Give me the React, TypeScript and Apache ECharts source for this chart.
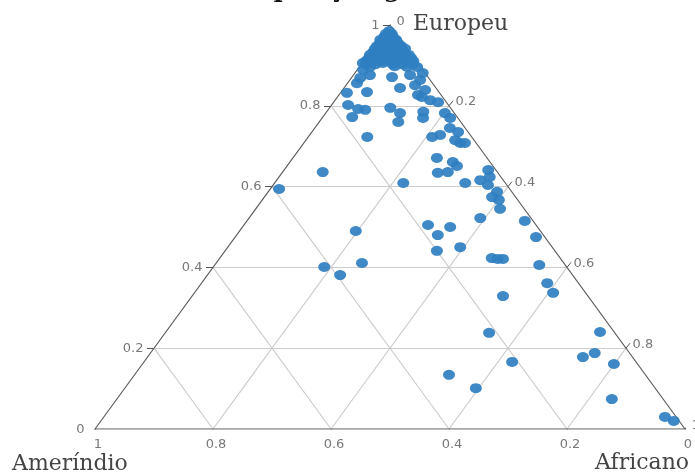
import React, { useEffect, useRef } from "react";
import * as echarts from "echarts";

const titleText = "Composição genética";
const nameTop = "Europeu";
const nameLeft = "Ameríndio";
const nameRight = "Africano";

const ticks = [0, 0.2, 0.4, 0.6, 0.8, 1];
const tickLabels = ["0", "0.2", "0.4", "0.6", "0.8", "1"];
const gridValues = [0.2, 0.4, 0.6, 0.8];

const europeu = [
  0.985, 0.97, 0.97, 0.955, 0.955, 0.955, 0.941, 0.941, 0.941, 0.941, 0.941,
  0.926, 0.926, 0.926, 0.926, 0.926, 0.926, 0.911, 0.911, 0.911, 0.911, 0.911,
  0.911, 0.911, 0.896, 0.896, 0.896, 0.881, 0.906, 0.898, 0.906,
  0.978, 0.978, 0.963, 0.963, 0.963, 0.948, 0.948, 0.948, 0.948, 0.933, 0.933,
  0.933, 0.933, 0.933, 0.918, 0.918, 0.918, 0.918, 0.918, 0.918, 0.903, 0.903,
  0.903, 0.903, 0.903,
  0.889, 0.876, 0.869, 0.856, 0.832, 0.834, 0.871, 0.844, 0.876, 0.851, 0.864,
  0.839, 0.827, 0.814, 0.809, 0.822, 0.802, 0.792, 0.79, 0.772, 0.795, 0.782,
  0.76, 0.785, 0.77, 0.782, 0.77, 0.745, 0.735, 0.715, 0.708, 0.708, 0.723,
  0.728, 0.723, 0.671, 0.661, 0.651, 0.634, 0.636, 0.609, 0.609, 0.616, 0.641,
  0.624, 0.604, 0.587, 0.574, 0.567, 0.545, 0.522, 0.515, 0.475, 0.505, 0.5,
  0.48, 0.441, 0.45, 0.423, 0.421, 0.421, 0.406, 0.361, 0.337, 0.329, 0.238,
  0.24, 0.188, 0.178, 0.161, 0.166, 0.134, 0.101, 0.074, 0.03, 0.02, 0.636,
  0.594, 0.49, 0.401, 0.381, 0.411,
];
const africano = [
  0.006, 0.005, 0.02, 0.006, 0.021, 0.036, 0.004, 0.018, 0.031, 0.045, 0.055,
  0.003, 0.017, 0.03, 0.044, 0.057, 0.069, 0.004, 0.017, 0.031, 0.045, 0.058,
  0.072, 0.084, 0.018, 0.081, 0.098, 0.115, 0.035, 0.059, 0.001,
  0.004, 0.014, 0.002, 0.015, 0.029, 0.004, 0.018, 0.031, 0.045, 0.005, 0.018,
  0.032, 0.045, 0.057, 0.005, 0.021, 0.036, 0.051, 0.066, 0.077, 0.008, 0.024,
  0.053, 0.069, 0.087,
  0.01, 0.028, 0.015, 0.016, 0.011, 0.044, 0.068, 0.095, 0.096, 0.117, 0.119,
  0.14, 0.134, 0.161, 0.177, 0.143, 0.028, 0.05, 0.063, 0.05, 0.103, 0.126,
  0.134, 0.164, 0.171, 0.202, 0.217, 0.229, 0.248, 0.253, 0.265, 0.273, 0.21,
  0.221, 0.1, 0.244, 0.276, 0.288, 0.264, 0.28, 0.218, 0.323, 0.345, 0.346,
  0.357, 0.364, 0.388, 0.386, 0.401, 0.414, 0.392, 0.471, 0.51, 0.312, 0.352,
  0.341, 0.359, 0.394, 0.461, 0.472, 0.481, 0.55, 0.586, 0.608, 0.527, 0.549,
  0.736, 0.753, 0.738, 0.799, 0.624, 0.533, 0.595, 0.839, 0.951, 0.971, 0.068,
  0.015, 0.197, 0.188, 0.225, 0.247,
];
const amerindio = [
  0.009, 0.025, 0.01, 0.039, 0.024, 0.009, 0.055, 0.041, 0.028, 0.014, 0.004,
  0.071, 0.057, 0.044, 0.03, 0.017, 0.005, 0.085, 0.072, 0.058, 0.044, 0.031,
  0.017, 0.005, 0.086, 0.023, 0.006, 0.004, 0.059, 0.043, 0.093,
  0.018, 0.008, 0.035, 0.022, 0.008, 0.048, 0.034, 0.021, 0.007, 0.062, 0.049,
  0.035, 0.022, 0.01, 0.077, 0.061, 0.046, 0.031, 0.016, 0.005, 0.089, 0.073,
  0.044, 0.028, 0.01,
  0.101, 0.096, 0.116, 0.128, 0.157, 0.122, 0.061, 0.061, 0.028, 0.032, 0.017,
  0.021, 0.039, 0.025, 0.014, 0.035, 0.17, 0.158, 0.147, 0.178, 0.102, 0.092,
  0.106, 0.051, 0.059, 0.016, 0.013, 0.026, 0.017, 0.032, 0.027, 0.019, 0.067,
  0.051, 0.177, 0.085, 0.063, 0.061, 0.102, 0.084, 0.173, 0.068, 0.039, 0.013,
  0.019, 0.032, 0.025, 0.04, 0.032, 0.041, 0.086, 0.014, 0.015, 0.183, 0.148,
  0.179, 0.2, 0.156, 0.116, 0.107, 0.098, 0.044, 0.053, 0.055, 0.144, 0.213,
  0.024, 0.059, 0.084, 0.04, 0.21, 0.333, 0.304, 0.087, 0.019, 0.009, 0.296,
  0.391, 0.313, 0.411, 0.394, 0.342,
];

// grid geometry (pixels)
const GRID_LEFT = 95;
const GRID_RIGHT = 10;
const GRID_TOP = 25;
const GRID_BOTTOM = 44;
const W = 695 - GRID_LEFT - GRID_RIGHT;
const H = 473 - GRID_TOP - GRID_BOTTOM;

// ternary (Europeu, Africano, Ameríndio) -> cartesian [x, y]
const toXY = (e: number, af: number, am: number): number[] => [
  (1 + af - am) / 2,
  e,
];

export default function App() {
  const ref = useRef<HTMLDivElement>(null);

  useEffect(() => {
    if (!ref.current) return;
    const chart = echarts.init(ref.current, null, { renderer: "svg" });

    const gridSegs: any[] = [];
    gridValues.forEach((v) => {
      gridSegs.push({ coords: [toXY(v, 0, 1 - v), toXY(v, 1 - v, 0)] });
      gridSegs.push({ coords: [toXY(1 - v, v, 0), toXY(0, v, 1 - v)] });
      gridSegs.push({ coords: [toXY(1 - v, 0, v), toXY(0, 1 - v, v)] });
    });

    const sideSegs = [
      { coords: [toXY(0, 0, 1), toXY(1, 0, 0)] },
      { coords: [toXY(1, 0, 0), toXY(0, 1, 0)] },
    ];
    const bottomSegs = [{ coords: [toXY(0, 0, 1), toXY(0, 1, 0)] }];

    const tickSegs: any[] = [];
    const leftLabels: any[] = [];
    const rightLabels: any[] = [];
    const bottomLabels: any[] = [];
    ticks.forEach((t, i) => {
      const pl = toXY(t, 0, 1 - t);
      tickSegs.push({ coords: [[pl[0] - 7 / W, pl[1]], pl] });
      leftLabels.push({ value: pl, name: tickLabels[i] });
      const pr = toXY(1 - t, t, 0);
      tickSegs.push({ coords: [pr, [pr[0] + 4 / W, pr[1] + 5 / H]] });
      rightLabels.push({ value: pr, name: tickLabels[i] });
      const pb = toXY(0, 1 - t, t);
      tickSegs.push({ coords: [pb, [pb[0] + 3 / W, pb[1] - 5 / H]] });
      bottomLabels.push({ value: pb, name: tickLabels[i] });
    });

    const points = europeu.map((e, i) => toXY(e, africano[i], amerindio[i]));

    const tickLabelStyle = {
      show: true,
      formatter: "{b}",
      color: "#555",
      fontSize: 13,
      fontFamily: "DejaVu Sans",
    };
    const labelSeries = (data: any[], label: any) => ({
      type: "scatter",
      data,
      symbol: "circle",
      symbolSize: 1,
      itemStyle: { color: "transparent" },
      label: { ...tickLabelStyle, ...label },
      silent: true,
      z: 5,
    });

    chart.setOption({
      animation: false,
      grid: {
        left: GRID_LEFT,
        right: GRID_RIGHT,
        top: GRID_TOP,
        bottom: GRID_BOTTOM,
      },
      xAxis: { type: "value", min: 0, max: 1, show: false },
      yAxis: { type: "value", min: 0, max: 1, show: false },
      series: [
        {
          type: "lines",
          coordinateSystem: "cartesian2d",
          data: gridSegs,
          lineStyle: { color: "#cdcdcd", width: 1.2, opacity: 1 },
          silent: true,
          z: 1,
        },
        {
          type: "lines",
          coordinateSystem: "cartesian2d",
          data: bottomSegs,
          lineStyle: { color: "#8a8a8a", width: 1.6, opacity: 1 },
          silent: true,
          z: 2,
        },
        {
          type: "lines",
          coordinateSystem: "cartesian2d",
          data: sideSegs,
          lineStyle: { color: "#555", width: 1.1, opacity: 1 },
          silent: true,
          z: 2,
        },
        {
          type: "lines",
          coordinateSystem: "cartesian2d",
          data: tickSegs,
          lineStyle: { color: "#555", width: 1, opacity: 1 },
          silent: true,
          z: 2,
        },
        labelSeries(leftLabels, { position: "left", distance: 10, offset: [0, -1] }),
        labelSeries(rightLabels, { position: "right", distance: 6, offset: [0, -5] }),
        labelSeries(bottomLabels, { position: "bottom", distance: 7, offset: [3, 0] }),
        {
          type: "scatter",
          data: points,
          symbol: "circle",
          symbolSize: [12, 10],
          itemStyle: { color: "#2f7fc1", opacity: 0.92 },
          z: 4,
        },
      ],
      graphic: [
        {
          type: "text",
          x: 356,
          y: -12,
          style: {
            text: titleText,
            fill: "#111",
            font: "bold 24px 'DejaVu Serif'",
            textAlign: "center",
            textVerticalAlign: "middle",
          },
        },
        {
          type: "text",
          x: 413,
          y: 22,
          style: {
            text: nameTop,
            fill: "#444",
            font: "22px 'DejaVu Serif'",
            textAlign: "left",
            textVerticalAlign: "middle",
          },
        },
        {
          type: "text",
          x: 12,
          y: 462,
          style: {
            text: nameLeft,
            fill: "#444",
            font: "22px 'DejaVu Serif'",
            textAlign: "left",
            textVerticalAlign: "middle",
          },
        },
        {
          type: "text",
          x: 595,
          y: 461,
          style: {
            text: nameRight,
            fill: "#444",
            font: "22px 'DejaVu Serif'",
            textAlign: "left",
            textVerticalAlign: "middle",
          },
        },
      ],
    });

    return () => chart.dispose();
  }, []);

  return (
    <div
      ref={ref}
      style={{ position: "fixed", left: 0, top: 0, width: 695, height: 473 }}
    />
  );
}
